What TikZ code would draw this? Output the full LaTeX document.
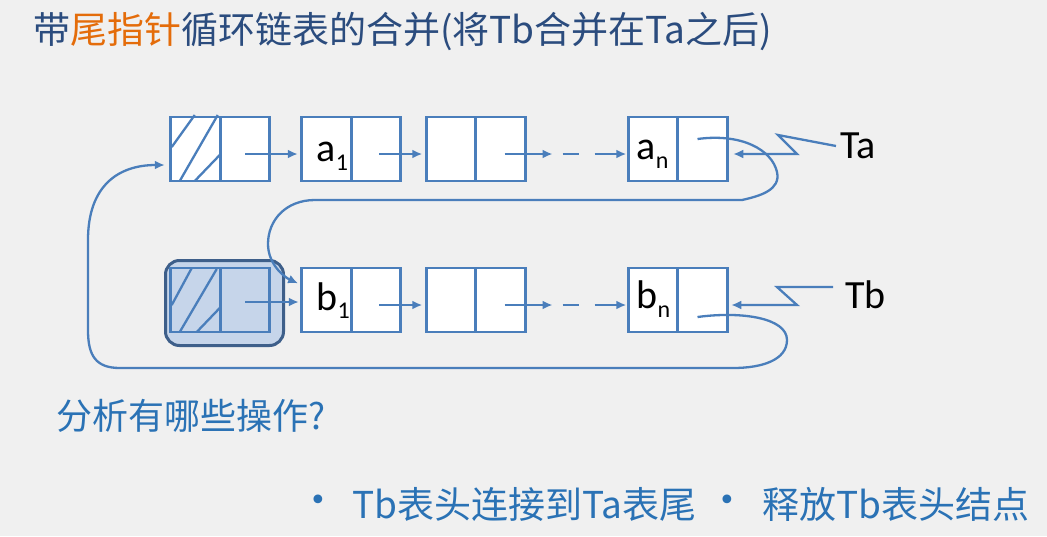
\documentclass[tikz,border=0pt]{standalone}
\usepackage{fontspec}
\newfontfamily\cjk{Noto Sans CJK SC}
\newfontfamily\lat{Carlito}
\newfontfamily\dv{DejaVu Sans}
\usetikzlibrary{arrows.meta}
\definecolor{bg}{HTML}{F0F0F0}
\definecolor{lb}{HTML}{4A7EBB}
\definecolor{tc}{HTML}{2B4C7E}
\definecolor{orng}{HTML}{E46C0A}
\definecolor{qc}{HTML}{2A72B5}
\definecolor{hb}{HTML}{C6D5EA}
\definecolor{hd}{HTML}{3E5F8A}
\begin{document}
\begin{tikzpicture}[x=1pt,y=-1pt,
  cell/.style={draw=lb, line width=2.6pt, fill=white, minimum width=49.5pt, minimum height=64pt, inner sep=0pt, outer sep=0pt},
  lk/.style={draw=lb, line width=2.3pt},
  ptr/.style={lk, -{Latex[length=10pt,width=9pt]}},
  lbl/.style={font=\lat\fontsize{40}{40}\selectfont, anchor=base west, inner sep=0pt},
  sub/.style={font=\lat\fontsize{24}{24}\selectfont, anchor=base west, inner sep=0pt},
  cjkt/.style={anchor=base west, inner sep=0pt},
  bullet/.style={font=\dv\fontsize{30}{30}\selectfont, text=qc, inner sep=0pt}
]
\fill[bg] (0,0) rectangle (1047,536);
\useasboundingbox (0,0) rectangle (1047,536);

% title
\node[cjkt, font=\cjk\fontsize{37}{37}\selectfont, text=tc] (title) at (33,43)
  {带\textcolor{orng}{尾指针}循环链表的合并(将Tb合并在Ta之后)};

% Tb head box
\node[draw=hd, fill=hb, line width=3pt, rounded corners=14pt, minimum width=118pt, minimum height=85pt] (tbbox) at (224.5,303) {};

% top row cells
\node[cell] (h1d) at (195.5,149) {};
\node[cell] (h1p) at (245,149) {};
\node[cell] (a1d) at (326.5,149) {};
\node[cell] (a1p) at (376,149) {};
\node[cell] (t3d) at (451,149) {};
\node[cell] (t3p) at (500.5,149) {};
\node[cell] (and) at (653,149) {};
\node[cell] (anp) at (702.5,149) {};

% bottom row cells
\node[cell, fill=hb] (h2d) at (195.5,300) {};
\node[cell, fill=hb] (h2p) at (245,300) {};
\node[cell] (b1d) at (326.5,300) {};
\node[cell] (b1p) at (376,300) {};
\node[cell] (b3d) at (451,300) {};
\node[cell] (b3p) at (500.5,300) {};
\node[cell] (bnd) at (653,300) {};
\node[cell] (bnp) at (702.5,300) {};

% hatching
\begin{scope}[shift={(h1d.north west)}]
  \draw[lk] (24,-2) -- (1,30) (47,-2) -- (9,64) (49,38) -- (24,64);
\end{scope}
\begin{scope}[shift={(h2d.north west)}]
  \draw[lk] (21,0) -- (1,37) (46,1) -- (9,64) (49,40) -- (26,64);
\end{scope}

% labels in cells
\node[lbl] (la) at (316,161) {a};
\node[sub] (la1) at (la.base east) [yshift=-9pt] {1};
\node[lbl] (lan) at (636,159) {a};
\node[sub] (lan1) at (lan.base east) [yshift=-9pt] {n};
\node[lbl] (lb) at (316,310) {b};
\node[sub] (lb1) at (lb.base east) [yshift=-8pt] {1};
\node[lbl] (lbn) at (636,308) {b};
\node[sub] (lbn1) at (lbn.base east) [yshift=-9pt] {n};

\node[lbl] (Ta) at (840,158) {Ta};
\node[lbl] (Tb) at (845,308) {Tb};

% top row links
\draw[ptr, shorten >=4pt] ([yshift=-5pt]h1p.center) -- ([yshift=-5pt]a1d.west);
\draw[ptr, shorten >=4pt] ([xshift=3pt,yshift=-5pt]a1p.center) -- ([yshift=-5pt]t3d.west);
\coordinate (td1) at ([xshift=52pt,yshift=-5pt]t3p.center);
\draw[ptr] ([xshift=4pt,yshift=-5pt]t3p.center) -- (td1);
\draw[lk] ([xshift=10pt]td1) -- ([xshift=26pt]td1);
\draw[ptr, shorten >=2pt] ([xshift=42pt]td1) -- ([yshift=-5pt]and.west);

% bottom row links
\draw[ptr, shorten >=3pt] ([yshift=-2pt]h2p.center) -- ([yshift=-2pt]b1d.west);
\draw[ptr, shorten >=4pt] ([xshift=3pt,yshift=-5pt]b1p.center) -- ([yshift=-5pt]b3d.west);
\coordinate (bd1) at ([xshift=52pt,yshift=-5pt]b3p.center);
\draw[ptr] ([xshift=4pt,yshift=-5pt]b3p.center) -- (bd1);
\draw[lk] ([xshift=10pt]bd1) -- ([xshift=26pt]bd1);
\draw[ptr, shorten >=2pt] ([xshift=42pt]bd1) -- ([yshift=-5pt]bnd.west);

% Ta / Tb zigzag pointers
\draw[ptr, shorten >=6pt] ([xshift=-4pt,yshift=12pt]Ta.base west) -- (778,135) -- (797,154) -- ([yshift=-5pt]anp.east);
\draw[ptr, shorten >=4pt] ([xshift=-12pt,yshift=21pt]Tb.base west) -- (777,287) -- (797,305) -- ([yshift=-5pt]bnp.east);

% tail of Ta -> head of b1
\draw[ptr, shorten >=4pt] ([xshift=-5pt,yshift=10pt]anp.center)
  .. controls (742,133) and (772,150) .. (777,172)
  .. controls (781,190) and (760,196) .. (742,200)
  -- (315,200)
  .. controls (286,200) and (268,220) .. (268,244)
  .. controls (268,264) and (284,277) .. ([yshift=15pt]b1d.west);

% tail of Tb -> head of Ta
\draw[ptr, shorten >=6pt] ([xshift=-5pt,yshift=-17pt]bnp.center)
  .. controls (742,311) and (787,318) .. (787,340)
  .. controls (787,360) and (762,368) .. (733,368)
  -- (120,368)
  .. controls (96,368) and (88,356) .. (88,330)
  -- (88,240)
  .. controls (88,186) and (118,165) .. ([yshift=-16pt]h1d.west);

% questions
\node[cjkt, font=\cjk\fontsize{36}{36}\selectfont, text=qc] (q) at (56,429) {分析有哪些操作?};
\node[bullet] (bu1) at (318,503) {•};
\node[cjkt, font=\cjk\fontsize{37}{37}\selectfont, text=qc] (op1) at (352,518) {Tb表头连接到Ta表尾};
\node[bullet] (bu2) at (727,503) {•};
\node[cjkt, font=\cjk\fontsize{37}{37}\selectfont, text=qc] (op2) at (762,518) {释放Tb表头结点};
\end{tikzpicture}
\end{document}
